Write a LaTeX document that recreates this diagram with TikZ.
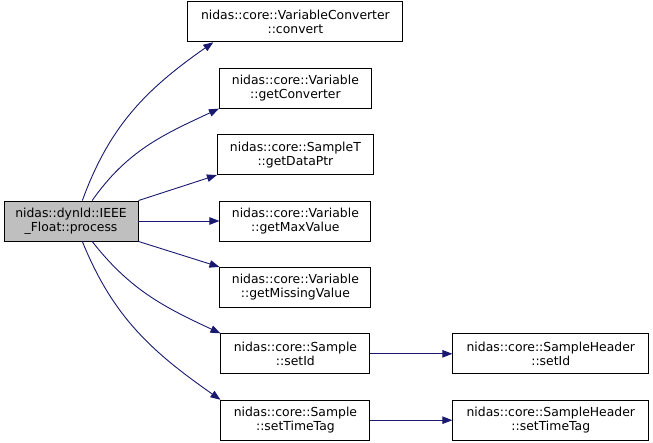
\documentclass[tikz,border=0pt]{standalone}
\usepackage{fontspec}
\setsansfont{DejaVu Sans}
\usepackage{tikz}
\usetikzlibrary{positioning, arrows.meta}
\usepackage{xcolor}
\definecolor{midnight}{HTML}{191970}

\begin{document}
\begin{tikzpicture}[
  func/.style={rectangle, draw=black, line width=0.9pt, fill=white,
               minimum height=40pt, inner sep=2pt, align=center,
               font=\sffamily\fontsize{12.4}{14}\selectfont},
  call/.style={-{Triangle[length=10pt, width=7.5pt, fill=midnight]},
               draw=midnight, line width=0.9pt}
]
\useasboundingbox (0,0) rectangle (653pt,-443pt);

% Column 1 — caller
\node[func, fill=gray!50, minimum width=134pt] (process) at (71pt,-221pt)
  {nidas::dynld::IEEE\\\_Float::process};

% Column 2 — callees
\node[func, minimum width=151pt, right=81pt of process] (getMaxValue)
  {nidas::core::Variable\\::getMaxValue};
\node[func, minimum width=156pt, above=25.5pt of getMaxValue] (getDataPtr)
  {nidas::core::SampleT\\::getDataPtr};
\node[func, minimum width=152pt, above=25.5pt of getDataPtr] (getConverter)
  {nidas::core::Variable\\::getConverter};
\node[func, minimum width=215pt, above=25.5pt of getConverter] (convert)
  {nidas::core::VariableConverter\\::convert};
\node[func, minimum width=151pt, below=25.5pt of getMaxValue] (getMissingValue)
  {nidas::core::Variable\\::getMissingValue};
\node[func, minimum width=149pt, below=25.5pt of getMissingValue] (setId)
  {nidas::core::Sample\\::setId};
\node[func, minimum width=149pt, below=25.5pt of setId] (setTimeTag)
  {nidas::core::Sample\\::setTimeTag};

% Column 3 — sample header
\node[func, minimum width=196pt, right=82pt of setId] (hdrSetId)
  {nidas::core::SampleHeader\\::setId};
\node[func, minimum width=196pt, right=82pt of setTimeTag] (hdrSetTimeTag)
  {nidas::core::SampleHeader\\::setTimeTag};

% Calls from process
\draw[call] (process.61) to[out=70, in=215] (convert.194);
\draw[call] (process.44) to[out=55, in=205] (getConverter.south west);
\draw[call] (process.north east) -- (getDataPtr.south west);
\draw[call] (process.east) -- (getMaxValue.west);
\draw[call] (process.south east) -- (getMissingValue.north west);
\draw[call] (process.-44) to[out=-52, in=155] (setId.north west);
\draw[call] (process.-61) to[out=-68, in=145] (setTimeTag.north west);

% Calls to the header
\draw[call] (setId) -- (hdrSetId);
\draw[call] (setTimeTag) -- (hdrSetTimeTag);

\end{tikzpicture}
\end{document}
